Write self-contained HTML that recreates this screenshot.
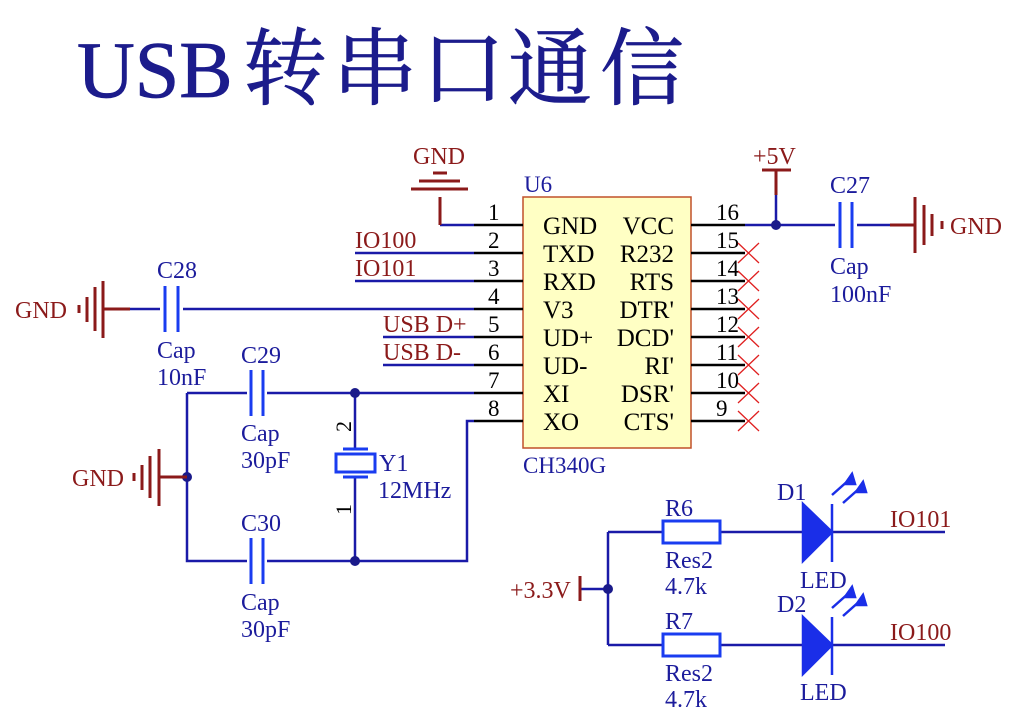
<!DOCTYPE html>
<html><head><meta charset="utf-8"><style>
html,body{margin:0;padding:0;background:#fff;}
svg{display:block;}
text{font-family:"Liberation Serif","Noto Serif CJK SC",serif;}
</style></head><body>
<svg width="1015" height="716" viewBox="0 0 1015 716" xmlns="http://www.w3.org/2000/svg">
<g fill="#1c1c8c" stroke="#1c1c8c" stroke-width="0.8">
<text x="77" y="97" font-size="80">USB</text>
<g font-size="84" font-family="Noto Serif CJK SC, serif">
<text x="243" y="98">转</text><text x="333" y="98">串</text><text x="421" y="98">口</text><text x="508" y="98">通</text><text x="600" y="98">信</text>
</g>
</g>

<!-- IC -->
<rect x="523" y="197" width="168" height="251" fill="#ffffc4" stroke="#c0502a" stroke-width="1.5"/>
<text x="524" y="192" font-size="23" fill="#1c1c9c">U6</text>
<text x="523" y="473" font-size="23" fill="#1c1c9c">CH340G</text>
<g stroke="#000" stroke-width="2.5">
<line x1="474" y1="225" x2="523" y2="225"/><line x1="474" y1="253" x2="523" y2="253"/>
<line x1="474" y1="281" x2="523" y2="281"/><line x1="474" y1="309" x2="523" y2="309"/>
<line x1="474" y1="337" x2="523" y2="337"/><line x1="474" y1="365" x2="523" y2="365"/>
<line x1="474" y1="393" x2="523" y2="393"/><line x1="474" y1="421" x2="523" y2="421"/>
<line x1="691" y1="225" x2="745" y2="225"/><line x1="691" y1="253" x2="745" y2="253"/>
<line x1="691" y1="281" x2="745" y2="281"/><line x1="691" y1="309" x2="745" y2="309"/>
<line x1="691" y1="337" x2="745" y2="337"/><line x1="691" y1="365" x2="745" y2="365"/>
<line x1="691" y1="393" x2="745" y2="393"/><line x1="691" y1="421" x2="745" y2="421"/>
</g>
<g font-size="23" fill="#000">
<text x="488" y="220">1</text><text x="488" y="248">2</text><text x="488" y="276">3</text><text x="488" y="304">4</text>
<text x="488" y="332">5</text><text x="488" y="360">6</text><text x="488" y="388">7</text><text x="488" y="416">8</text>
<text x="716" y="220">16</text><text x="716" y="248">15</text><text x="716" y="276">14</text><text x="716" y="304">13</text>
<text x="716" y="332">12</text><text x="716" y="360">11</text><text x="716" y="388">10</text><text x="716" y="416">9</text>
</g>
<g font-size="25" fill="#000">
<text x="543" y="234">GND</text><text x="543" y="262">TXD</text><text x="543" y="290">RXD</text><text x="543" y="318">V3</text>
<text x="543" y="346">UD+</text><text x="543" y="374">UD-</text><text x="543" y="402">XI</text><text x="543" y="430">XO</text>
</g>
<g font-size="25" fill="#000" text-anchor="end">
<text x="674" y="234">VCC</text><text x="674" y="262">R232</text><text x="674" y="290">RTS</text><text x="674" y="318">DTR'</text>
<text x="674" y="346">DCD'</text><text x="674" y="374">RI'</text><text x="674" y="402">DSR'</text><text x="674" y="430">CTS'</text>
</g>
<!-- NC crosses -->
<g stroke="#e02020" stroke-width="1.3">
<path d="M738 243 L759 263 M738 263 L759 243"/><path d="M738 271 L759 291 M738 291 L759 271"/>
<path d="M738 299 L759 319 M738 319 L759 299"/><path d="M738 327 L759 347 M738 347 L759 327"/>
<path d="M738 355 L759 375 M738 375 L759 355"/><path d="M738 383 L759 403 M738 403 L759 383"/>
<path d="M738 411 L759 431 M738 431 L759 411"/>
</g>

<!-- wires -->
<g stroke="#1a1aa8" stroke-width="2.5" fill="none">
<path d="M440 225 H474"/>
<path d="M355 253 H474"/><path d="M355 281 H474"/>
<path d="M183 309 H474"/>
<path d="M383 337 H474"/><path d="M383 365 H474"/>
<path d="M267 393 H474"/><path d="M187 393 H247 M187 393 V561 H247"/>
<path d="M267 561 H467 V421 H474"/>
<path d="M355 393 V449 M355 477 V561"/>
<path d="M745 225 H835 M857 225 H890"/>
<path d="M776 195 V225"/>
<path d="M580 589 H608 M608 532 V645 M608 532 H663 M720 532 H803 M832 532 H945 M608 645 H663 M720 645 H803 M832 645 H945"/>
<path d="M130 309 H160"/>
</g>
<g fill="#1a1a8a">
<circle cx="355" cy="393" r="5"/><circle cx="355" cy="561" r="5"/><circle cx="187" cy="477" r="5"/>
<circle cx="776" cy="225" r="5"/><circle cx="608" cy="589" r="5"/>
</g>

<!-- caps -->
<g stroke="#1a3cf0" stroke-width="3">
<path d="M165 286 V332 M178 286 V332"/>
<path d="M251 370 V416 M263 370 V416"/>
<path d="M251 538 V584 M263 538 V584"/>
<path d="M840 202 V248 M852 202 V248"/>
</g>
<g font-size="24" fill="#1c1c9c">
<text x="157" y="278">C28</text><text x="157" y="358">Cap</text><text x="157" y="385">10nF</text>
<text x="241" y="363">C29</text><text x="241" y="441">Cap</text><text x="241" y="468">30pF</text>
<text x="241" y="531">C30</text><text x="241" y="610">Cap</text><text x="241" y="637">30pF</text>
<text x="830" y="193">C27</text><text x="830" y="274">Cap</text><text x="830" y="302">100nF</text>
<text x="379" y="471">Y1</text><text x="378" y="498">12MHz</text>
<text x="777" y="500">D1</text><text x="800" y="588">LED</text>
<text x="777" y="612">D2</text><text x="800" y="700">LED</text>
<text x="665" y="516">R6</text><text x="665" y="568">Res2</text><text x="665" y="594">4.7k</text>
<text x="665" y="629">R7</text><text x="665" y="681">Res2</text><text x="665" y="707">4.7k</text>
</g>
<!-- crystal -->
<g stroke="#1a3cf0" stroke-width="3" fill="none">
<path d="M343 449 H368 M343 477 H368"/><rect x="336" y="454" width="39" height="18"/>
</g>
<text font-size="22" fill="#000" transform="translate(351,432) rotate(-90)">2</text>
<text font-size="22" fill="#000" transform="translate(351,515) rotate(-90)">1</text>

<!-- red net labels -->
<g font-size="24" fill="#8b1a1a">
<text x="413" y="164">GND</text>
<text x="355" y="248">IO100</text><text x="355" y="276">IO101</text>
<text x="383" y="332">USB D+</text><text x="383" y="360">USB D-</text>
<text x="15" y="318">GND</text><text x="72" y="486">GND</text>
<text x="753" y="164">+5V</text><text x="950" y="234">GND</text>
<text x="510" y="598">+3.3V</text>
<text x="890" y="527">IO101</text><text x="890" y="640">IO100</text>
</g>
<g stroke="#8b1a1a" stroke-width="3" fill="none">
<path d="M440 197 V225 M411 189 H468 M419 181 H460 M433 173 H447"/>
<path d="M103 309 H130 M103 281 V338 M95 287 V331 M87 297 V322 M79 305 V313"/>
<path d="M159 477 H187 M159 449 V506 M150 456 V498 M142 465 V490 M134 473 V481"/>
<path d="M762 170 H791 M776 170 V195"/>
<path d="M890 225 H915 M915 197 V253 M924 205 V245 M932 214 V236 M942 221 V229"/>
<path d="M580 576 V601"/>
</g>
<!-- resistors -->
<g stroke="#1a3cf0" stroke-width="3" fill="#fff">
<rect x="663" y="521" width="57" height="22"/><rect x="663" y="634" width="57" height="22"/>
</g>
<!-- diodes -->
<g fill="#1a2ee8" stroke="#1a2ee8" stroke-width="2.5">
<path d="M803 504 L832 532 L803 561 Z"/><path d="M832 504 V562" fill="none"/>
<path d="M803 617 L832 645 L803 674 Z"/><path d="M832 617 V675" fill="none"/>
<path d="M832 495 L850 479 M843 503 L861 487" fill="none"/>
<path d="M852 474 L845 484 L855 484 Z M863 482 L856 492 L866 492 Z"/>
<path d="M832 608 L850 592 M843 616 L861 600" fill="none"/>
<path d="M852 587 L845 597 L855 597 Z M863 595 L856 605 L866 605 Z"/>
</g>
</svg>
</body></html>
